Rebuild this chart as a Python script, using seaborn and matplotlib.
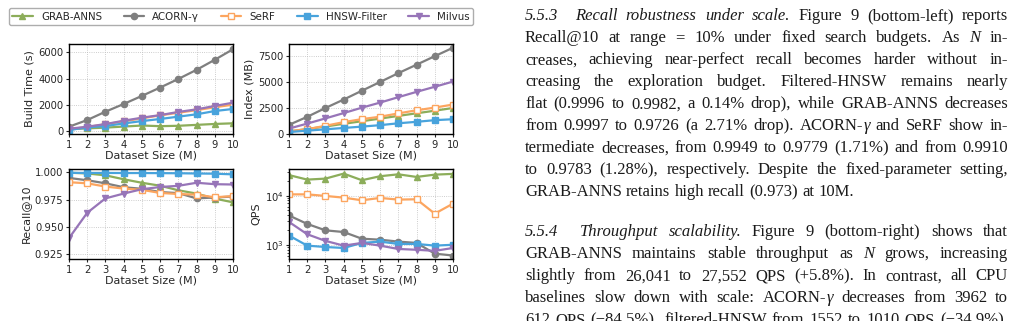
import numpy as np
import pandas as pd
import seaborn as sns
import matplotlib.pyplot as plt
from matplotlib.lines import Line2D
from matplotlib.transforms import IdentityTransform

sizes = [1, 2, 3, 4, 5, 6, 7, 8, 9, 10]
methods = ["GRAB-ANNS", "ACORN-γ", "SeRF", "HNSW-Filter", "Milvus"]

build_time = {
    "GRAB-ANNS": [120, 180, 240, 320, 400, 350, 380, 450, 520, 570],
    "ACORN-γ": [310, 820, 1460, 2050, 2670, 3310, 3970, 4670, 5440, 6250],
    "SeRF": [120, 280, 500, 720, 950, 1180, 1380, 1580, 1800, 2000],
    "HNSW-Filter": [50, 260, 360, 560, 740, 900, 1080, 1260, 1510, 1670],
    "Milvus": [150, 310, 510, 770, 1000, 1200, 1440, 1640, 1900, 2150],
}
index_size = {
    "GRAB-ANNS": [240, 480, 720, 980, 1230, 1480, 1740, 1990, 2240, 2500],
    "ACORN-γ": [880, 1650, 2500, 3310, 4160, 5000, 5850, 6660, 7480, 8290],
    "SeRF": [270, 460, 790, 1140, 1430, 1660, 1980, 2280, 2540, 2830],
    "HNSW-Filter": [190, 320, 450, 580, 710, 850, 1030, 1170, 1330, 1420],
    "Milvus": [520, 1000, 1500, 2010, 2530, 3020, 3540, 4050, 4540, 5040],
}
recall = {
    "GRAB-ANNS": [0.9997, 0.9990, 0.9973, 0.9937, 0.9905, 0.9878, 0.9836, 0.9806, 0.9760, 0.9726],
    "ACORN-γ": [0.9949, 0.9928, 0.9900, 0.9864, 0.9850, 0.9820, 0.9810, 0.9762, 0.9770, 0.9779],
    "SeRF": [0.9910, 0.9900, 0.9870, 0.9852, 0.9840, 0.9812, 0.9802, 0.9796, 0.9772, 0.9783],
    "HNSW-Filter": [0.9996, 0.9995, 0.9995, 0.9994, 0.9994, 0.9993, 0.9992, 0.9990, 0.9988, 0.9982],
    "Milvus": [0.9398, 0.9630, 0.9762, 0.9806, 0.9846, 0.9866, 0.9877, 0.9905, 0.9892, 0.9889],
}
qps = {
    "GRAB-ANNS": [26041, 21100, 22100, 27900, 20500, 24700, 27000, 23900, 26600, 27552],
    "ACORN-γ": [3962, 2670, 1980, 1830, 1340, 1280, 1170, 1100, 667, 612],
    "SeRF": [10600, 10600, 9850, 9100, 8040, 8980, 8300, 8430, 4310, 6880],
    "HNSW-Filter": [1552, 970, 910, 870, 1100, 1170, 1050, 1050, 970, 1010],
    "Milvus": [2930, 1650, 1210, 970, 1100, 970, 830, 800, 760, 870],
}

# texto del articulo a la derecha, *...* = cursiva
para1 = [
    "*5.5.3*  *Recall robustness under scale.* Figure 9 (bottom-left) reports",
    "Recall@10 at range = 10% under fixed search budgets. As *N* in-",
    "creases, achieving near-perfect recall becomes harder without in-",
    "creasing the exploration budget. Filtered-HNSW remains nearly",
    "flat (0.9996 to 0.9982, a 0.14% drop), while GRAB-ANNS decreases",
    "from 0.9997 to 0.9726 (a 2.71% drop). ACORN-*γ* and SeRF show in-",
    "termediate decreases, from 0.9949 to 0.9779 (1.71%) and from 0.9910",
    "to 0.9783 (1.28%), respectively. Despite the fixed-parameter setting,",
    "GRAB-ANNS retains high recall (0.973) at 10M.",
]
para2 = [
    "*5.5.4*  *Throughput scalability.* Figure 9 (bottom-right) shows that",
    "GRAB-ANNS maintains stable throughput as *N* grows, increasing",
    "slightly from 26,041 to 27,552 QPS (+5.8%). In contrast, all CPU",
    "baselines slow down with scale: ACORN-*γ* decreases from 3962 to",
    "612 QPS (−84.5%), filtered-HNSW from 1552 to 1010 QPS (−34.9%),",
]

colors = {"GRAB-ANNS": "#8cad5a", "ACORN-γ": "#7f7f7f", "SeRF": "#fca55f",
          "HNSW-Filter": "#48a3dc", "Milvus": "#9775b8"}
markers = {"GRAB-ANNS": "^", "ACORN-γ": "o", "SeRF": "s", "HNSW-Filter": "s", "Milvus": "v"}

sns.set_style("ticks")
plt.rcParams['font.family'] = ['DejaVu Sans']
plt.rcParams['axes.linewidth'] = 1.0
FS_TICK = 7.2
FS_LAB = 8.0
FS_LEG = 7.4

W, H = 1018, 321
fig = plt.figure(figsize=(W / 100, H / 100), dpi=100)

def box(left, top):
    return [left / W, 1 - (top + 90) / H, 164 / W, 90 / H]

ax_build = fig.add_axes(box(69, 44))
ax_index = fig.add_axes(box(289, 44))
ax_recall = fig.add_axes(box(69, 169))
ax_qps = fig.add_axes(box(289, 169))

panels = [(ax_build, build_time, "Build Time (s)"),
          (ax_index, index_size, "Index (MB)"),
          (ax_recall, recall, "Recall@10"),
          (ax_qps, qps, "QPS")]

for ax, data, ylab in panels:
    for m in methods:
        face = "white" if m == "SeRF" else colors[m]
        sns.lineplot(x=sizes, y=data[m], ax=ax, color=colors[m], marker=markers[m],
                     markersize=4.5, linewidth=1.6, markeredgecolor=colors[m],
                     markerfacecolor=face, markeredgewidth=1.0)
    ax.set_xlim(1, 10)
    ax.set_xticks(sizes)
    ax.grid(True, linestyle=':', linewidth=0.6, color='#bdbdbd')
    ax.set_xlabel("Dataset Size (M)", fontsize=FS_LAB, labelpad=1.0)
    ax.set_ylabel(ylab, fontsize=FS_LAB, labelpad=2.5)
    ax.tick_params(axis='both', which='major', length=2.5, width=0.8, pad=1.5, labelsize=FS_TICK)
    for s in ax.spines.values():
        s.set_color('black')

ax_build.set_ylim(-250, 6650)
ax_build.set_yticks([0, 2000, 4000, 6000])
ax_index.set_ylim(0, 8650)
ax_index.set_yticks([0, 2500, 5000, 7500])
ax_recall.set_ylim(0.9207, 1.0031)
ax_recall.set_yticks([0.925, 0.950, 0.975, 1.000])
ax_qps.set_yscale('log')
ax_qps.set_ylim(520, 34600)
ax_qps.tick_params(axis='y', which='minor', length=1.5, width=0.6)

handles = [Line2D([], [], color=colors[m], marker=markers[m], markersize=4.5, linewidth=1.6,
                  markeredgecolor=colors[m],
                  markerfacecolor="white" if m == "SeRF" else colors[m]) for m in methods]
fig.legend(handles, methods, loc='center', bbox_to_anchor=(241 / W, 1 - 16.5 / H), ncol=5,
           fontsize=FS_LEG, frameon=True, edgecolor='#999999', columnspacing=2.1,
           handlelength=2.0, borderpad=0.35)

# texto justificado a mano
renderer = fig.canvas.get_renderer()
TX0, TX1 = 525, 1008
TFS = 12.0

def parse(line):
    words, word, piece, ital = [], [], '', False
    for ch in line + ' ':
        if ch == '*':
            if piece:
                word.append((piece, ital))
            piece = ''
            ital = not ital
        elif ch == ' ':
            if piece:
                word.append((piece, ital))
            piece = ''
            words.append(word)
            word = []
        else:
            piece += ch
    return words

def draw_line(line, y_top, justify):
    y = H - y_top
    words = parse(line)
    objs, widths = [], []
    for word in words:
        parts, w = [], 0
        for txt, ital in word:
            t = fig.text(0, y, txt, transform=IdentityTransform(), fontsize=TFS,
                         family='Liberation Serif', style='italic' if ital else 'normal',
                         color='#1a1a1a', va='baseline', ha='left')
            tw = t.get_window_extent(renderer).width
            parts.append((t, w))
            w += tw
        objs.append(parts)
        widths.append(w)
    if justify:
        gap = (TX1 - TX0 - sum(widths)) / (len(words) - 1)
    else:
        gap = 0.25 * TFS * 100 / 72
    x = TX0
    for parts, w in zip(objs, widths):
        for t, off in parts:
            t.set_position((x + off, y))
        x += w + gap

LS = 22
for i, line in enumerate(para1):
    draw_line(line, 20.5 + i * LS, i < len(para1) - 1)
for i, line in enumerate(para2):
    draw_line(line, 236.5 + i * LS, True)

fig.savefig("out.png", dpi=100)
